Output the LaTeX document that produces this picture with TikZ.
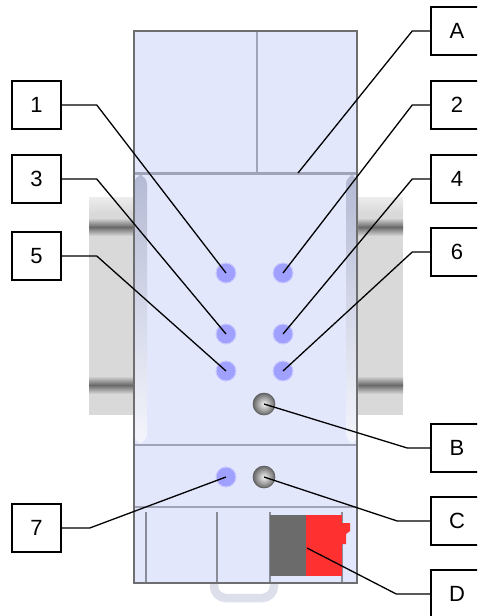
\documentclass[tikz,border=0pt]{standalone}
\usepackage{fontspec}
\setmainfont{Liberation Sans}

\definecolor{housing}{RGB}{226,231,252}
\definecolor{housingedge}{RGB}{110,110,112}
\definecolor{seam}{RGB}{160,164,184}
\definecolor{slot}{RGB}{138,140,152}
\definecolor{stripdark}{RGB}{180,186,212}
\definecolor{striplight}{RGB}{244,245,252}
\definecolor{railgray}{RGB}{217,217,217}
\definecolor{railband}{RGB}{105,105,105}
\definecolor{ledblue}{RGB}{160,160,255}
\definecolor{pluggray}{RGB}{107,107,107}
\definecolor{plugred}{RGB}{255,48,48}
\definecolor{clipgray}{RGB}{221,224,234}

\tikzset{
	tag/.style={draw, line width=1.5pt, minimum width=49pt, minimum height=48pt, inner sep=0pt, font=\fontsize{22}{26}\selectfont},
	wide tag/.style={tag, minimum width=52pt},
	lead/.style={line width=1.3pt},
	led/.style={circle, minimum size=20pt, inner sep=0pt, fill=ledblue, draw=ledblue!55!white, line width=1pt},
	knob/.style={circle, minimum size=22pt, inner sep=0pt, shading=radial, inner color=gray!8, outer color=gray!80!black, draw=gray!70!black, line width=0.6pt},
}

\begin{document}
\begin{tikzpicture}[x=1pt, y=-1pt]
	
	\clip (0,0) rectangle (477,616);
	
	%% RAIL
	\fill[railgray] (89,197) rectangle (403,415);
	\shade[top color=white!93!black, bottom color=railgray] (89,197) rectangle (403,213);
	% Bands
	\foreach \y in {227, 385}
	{
		\shade[top color=railgray, bottom color=railband] (89,\y-9) rectangle (403,\y);
		\shade[top color=railband, bottom color=railgray] (89,\y) rectangle (403,\y+9);
	}
	
	% Clip under the case
	\draw[clipgray, line width=8.5pt, rounded corners=12pt] (214,575) -- (214,598) -- (274,598) -- (274,575);
	
	%% CASE
	% Main
	\fill[housing] (134,31) rectangle (357,583);
	
	% Cover
	\draw[seam, line width=2.5pt] (257,31) -- (257,173);
	
	% Front edges
	\shade[top color=stripdark, bottom color=striplight, rounded corners=9pt] (134,175) rectangle (147,443);
	\shade[top color=stripdark, bottom color=striplight, rounded corners=9pt] (346,175) rectangle (358,443);
	
	% Seams
	\draw[seam, line width=3pt] (134,173) -- (357,173);
	\draw[seam, line width=2.5pt] (134,445) -- (357,445);
	\draw[seam, line width=2.5pt] (134,507) -- (357,507);
	
	% Slots
	\foreach \x in {146, 217, 270, 342}
	{
		\draw[slot, line width=2pt] (\x,512) -- (\x,583);
	}
	
	% Plug
	\fill[pluggray] (270,515) rectangle (306,576);
	\fill[plugred] (306,515) rectangle (342,576);
	\fill[plugred] (341,523) -- (350,523) -- (350,531) -- (346,534) -- (346,544) -- (341,544) -- cycle;
	\coordinate (plugD) at (307,548);
	
	% Redraw Main Rectangle
	\draw[housingedge, line width=2pt] (134,31) rectangle (357,583);
	
	% End of the cover lead
	\coordinate (coverA) at (298,173);
	
	%% LEDS AND BUTTONS
	\foreach \n/\x/\y in {1/226/273, 2/283/273, 3/226/334, 4/283/334, 5/226/371, 6/283/371, 7/226/477}
	{
		\node[led] (led\n) at (\x,\y) {};
	}
	\node[knob] (knobB) at (264,404) {};
	\node[knob] (knobC) at (264,477) {};
	
	%% LABELS
	% Left
	\foreach \n/\y in {1/105, 3/179, 5/256, 7/528}
	{
		\node[tag] (lab\n) at (36.5,\y) {\n};
	}
	% Right (cut by the page edge)
	\foreach \n/\y in {A/31, 2/105, 4/179, 6/252, B/448, C/521, D/594}
	{
		\node[wide tag] (lab\n) at (457,\y) {\n};
	}
	
	%% LEADS
	\foreach \n/\d in {1/35, 3/35, 5/35, 7/28}
	{
		\draw[lead] (lab\n.east) -- ++(\d,0) -- (led\n.center);
	}
	\foreach \n in {2, 4, 6}
	{
		\draw[lead] (lab\n.west) -- ++(-18,0) -- (led\n.center);
	}
	\draw[lead] (labA.west) -- ++(-18,0) -- (coverA);
	\draw[lead] (labB.west) -- ++(-23,0) -- (knobB.center);
	\draw[lead] (labC.west) -- ++(-33,0) -- (knobC.center);
	\draw[lead] (labD.west) -- ++(-34,0) -- (plugD);
	
\end{tikzpicture}
\end{document}
